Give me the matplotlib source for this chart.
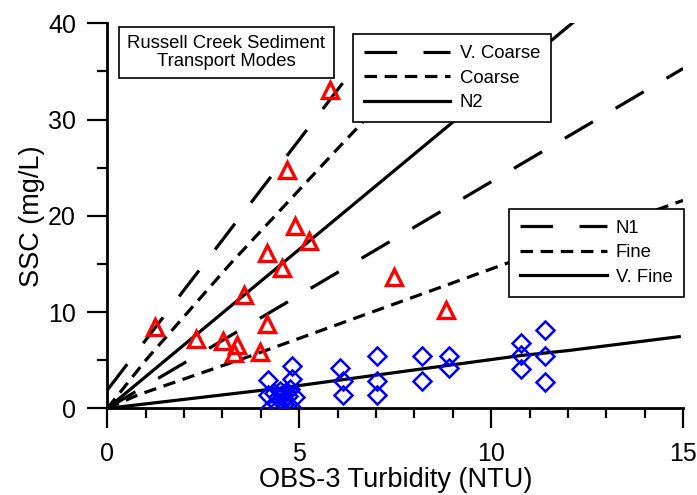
import matplotlib
matplotlib.use("Agg")
import matplotlib.pyplot as plt
from matplotlib.ticker import MultipleLocator

plt.rcParams['font.family'] = ['Liberation Sans', 'DejaVu Sans']
plt.rcParams['lines.scale_dashes'] = False

# transport-mode rating lines (NTU -> mg/L)
vcoarse_x = [0.0, 7.0]
vcoarse_y = [1.9, 38.3]
coarse_x = [0.0, 1.0, 3.2, 6.1, 8.6]
coarse_y = [0.0, 5.0, 15.0, 27.4, 37.9]
n2_x = [0.0, 12.2]
n2_y = [0.0, 40.3]
n1_x = [0.0, 15.0]
n1_y = [0.0, 35.3]
fine_x = [0.0, 0.8, 3.7, 6.2, 10.5, 15.0]
fine_y = [0.0, 1.4, 5.4, 9.0, 15.2, 21.6]
vfine_x = [0.0, 4.5, 8.2, 10.8, 12.0, 14.9]
vfine_y = [0.0, 2.1, 4.1, 5.5, 6.0, 7.45]

# samples (red triangles / blue diamonds)
tri_x = [1.24, 2.30, 3.01, 3.37, 3.30, 3.99, 4.17, 3.56, 4.54, 4.17, 5.25, 4.88, 4.69, 5.79, 7.47, 8.82]
tri_y = [8.5, 7.2, 7.0, 6.6, 5.8, 5.9, 8.8, 11.8, 14.6, 16.1, 17.4, 18.9, 24.8, 33.1, 13.6, 10.2]
dia_x = [4.19, 4.80, 4.80, 4.19, 4.24, 4.45, 4.80, 4.89, 4.35, 4.45, 4.50, 4.55, 4.60, 4.65, 4.70, 4.75, 4.40, 4.60,
         6.06, 6.15, 6.15, 7.03, 7.03, 7.03, 8.19, 8.19, 8.91, 8.91,
         10.77, 10.77, 10.77, 11.41, 11.41, 11.41]
dia_y = [2.9, 4.4, 3.1, 1.4, 0.0, 0.0, 0.0, 1.2, 1.6, 1.2, 1.8, 1.4, 1.0, 1.7, 1.3, 2.0, 0.6, 0.5,
         4.2, 2.8, 1.4, 5.4, 2.8, 1.4, 5.4, 2.8, 5.4, 4.2,
         6.8, 5.5, 4.1, 8.1, 5.4, 2.7]

long_dash = (0, (23.5, 19))
short_dash = (0, (9, 5.5))
lw = 2.3

fig = plt.figure(figsize=(6.97, 4.95), dpi=100)
ax = fig.add_axes([0.154, 0.175, 0.826, 0.778])

l_vc, = ax.plot(vcoarse_x, vcoarse_y, color='black', lw=lw, linestyle=long_dash, label='V. Coarse')
l_c, = ax.plot(coarse_x, coarse_y, color='black', lw=lw, linestyle=short_dash, label='Coarse')
l_n2, = ax.plot(n2_x, n2_y, color='black', lw=lw, label='N2')
l_n1, = ax.plot(n1_x, n1_y, color='black', lw=lw, linestyle=long_dash, label='N1')
l_f, = ax.plot(fine_x, fine_y, color='black', lw=lw, linestyle=short_dash, label='Fine')
l_vf, = ax.plot(vfine_x, vfine_y, color='black', lw=lw, label='V. Fine')

ax.plot(dia_x, dia_y, linestyle='none', marker='D', ms=9, mfc='none', mec='#0000ff', mew=1.8, zorder=3)
ax.plot(tri_x, tri_y, linestyle='none', marker='^', ms=11, mfc='none', mec='#ff0000', mew=2.4, zorder=3)

ax.set_xlim(0, 15)
ax.set_ylim(0, 40)
ax.xaxis.set_major_locator(MultipleLocator(5))
ax.xaxis.set_minor_locator(MultipleLocator(1))
ax.yaxis.set_major_locator(MultipleLocator(10))
ax.yaxis.set_minor_locator(MultipleLocator(5))
ax.spines['top'].set_visible(False)
ax.spines['right'].set_visible(False)
for s in ('left', 'bottom'):
    ax.spines[s].set_linewidth(2.0)
ax.tick_params(which='major', direction='out', length=14.5, width=1.6, labelsize=18)
ax.tick_params(which='minor', direction='out', length=7.2, width=1.6)
ax.tick_params(axis='x', which='major', pad=9.5)
ax.tick_params(axis='y', which='major', pad=8)

ax.set_xlabel('OBS-3 Turbidity (NTU)', fontsize=19.5, labelpad=1)
ax.set_ylabel('SSC (mg/L)', fontsize=19.5, labelpad=2)

leg_kw = dict(loc='upper left', fontsize=13.3, handlelength=4.7, handletextpad=0.5,
              labelspacing=0.41, borderpad=0.6, borderaxespad=0, fancybox=False,
              framealpha=1, edgecolor='black')
leg1 = ax.legend(handles=[l_vc, l_c, l_n2], bbox_to_anchor=(0.426, 0.972), **leg_kw)
leg1.get_frame().set_linewidth(1.2)
ax.add_artist(leg1)
leg2 = ax.legend(handles=[l_n1, l_f, l_vf], bbox_to_anchor=(0.697, 0.519), **leg_kw)
leg2.get_frame().set_linewidth(1.2)

ax.text(0.2067, 0.924, 'Russell Creek Sediment\nTransport Modes', transform=ax.transAxes,
        ha='center', va='center', fontsize=13.3, linespacing=1.1,
        bbox=dict(boxstyle='square,pad=0.45', facecolor='white', edgecolor='black', linewidth=1.2))

fig.savefig('out.png', dpi=100)
